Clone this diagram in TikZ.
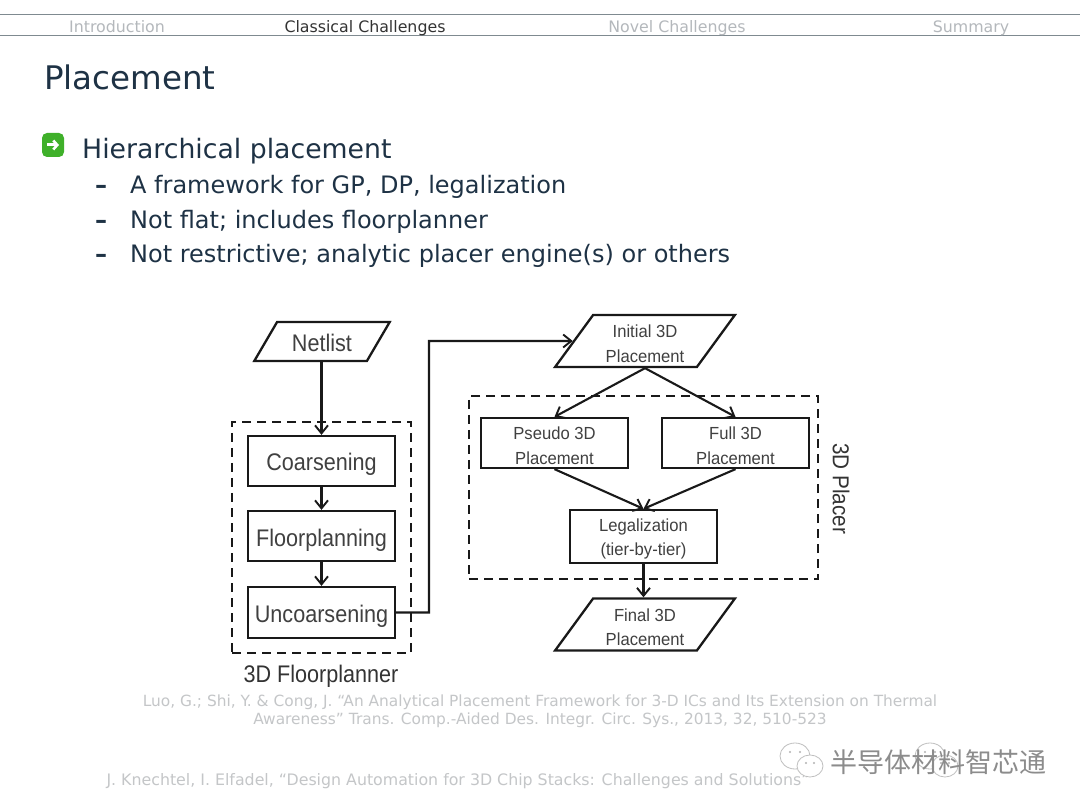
\documentclass[tikz,border=0pt]{standalone}
\usepackage{fontspec}
\setmainfont{DejaVu Sans}
\newfontfamily\arialf[FakeStretch=0.9]{Liberation Sans}
\newfontfamily\arials[FakeStretch=0.95]{Liberation Sans}
\newfontfamily\cjkf{Noto Sans CJK SC}
\usetikzlibrary{arrows.meta,shapes.geometric}
\definecolor{slidetext}{HTML}{1E3245}
\definecolor{headgray}{HTML}{B4B8BC}
\definecolor{refgray}{HTML}{C4C6C8}
\definecolor{rulegray}{HTML}{7F8A90}
\definecolor{bulletgreen}{HTML}{3FB02A}
\newcommand{\lowstrut}{\rule{0pt}{18pt}}
\tikzset{
  x=1pt,y=-1pt,
  slidetxt/.style={anchor=base west,inner sep=0pt,text=slidetext},
  subtxt/.style={slidetxt,font=\fontsize{24}{28}\selectfont},
  headtxt/.style={anchor=base,inner sep=0pt,text=headgray,font=\fontsize{15.8}{18}\selectfont},
  reftxt/.style={anchor=base,inner sep=0pt,text=refgray,font=\fontsize{15.4}{18}\selectfont},
  flowbox/.style={draw=black!90,line width=2.3pt,inner sep=0pt,align=center,text=black!75,
    font=\arials\fontsize{17.5}{24.5}\selectfont},
  bigbox/.style={draw=black!90,line width=2.3pt,inner sep=0pt,text=black!75,
    minimum width=147pt,minimum height=50pt,text height=20pt,text depth=0pt,
    font=\arialf\fontsize{24}{26}\selectfont},
  placebox/.style={flowbox,minimum width=147pt,minimum height=50pt},
  paragram/.style={flowbox,shape=trapezium,trapezium left angle=56,trapezium right angle=124,
    trapezium stretches=true,minimum width=180pt,minimum height=52pt},
  dashbox/.style={draw=black!90,line width=2.2pt,dash pattern=on 9pt off 6pt,inner sep=0pt},
  flow/.style={draw=black!90,line width=2.1pt,-{Straight Barb[length=8pt,width=13pt,line width=1.9pt]}},
}
\begin{document}
\begin{tikzpicture}
\useasboundingbox (0,0) rectangle (1080,810);
\fill[white] (0,0) rectangle (1080,810);
% header
\coordinate (hlA) at (0,15); \coordinate (hlB) at (1080,15);
\coordinate (hlC) at (0,36); \coordinate (hlD) at (1080,36);
\draw[rulegray,line width=1pt] (hlA) -- (hlB);
\draw[rulegray,line width=1pt] (hlC) -- (hlD);
\node[headtxt] (h1) at (117,32.5) {Introduction};
\node[headtxt,text=black!80] (h2) at (365,32.5) {Classical Challenges};
\node[headtxt] (h3) at (677,32.5) {Novel Challenges};
\node[headtxt] (h4) at (971,32.5) {Summary};
% title
\node[slidetxt,font=\fontsize{32.5}{36}\selectfont] (title) at (44,90) {Placement};
% bullet
\fill[bulletgreen,rounded corners=5pt] (42,133) rectangle (64,157);
\draw[white,line width=3pt,-{Straight Barb[length=4pt,width=9pt,line width=2.6pt]}] (47,145) -- (59,145);
\node[slidetxt,font=\fontsize{26.7}{30}\selectfont] (b0) at (82,159) {Hierarchical placement};
\node[subtxt,font=\bfseries\fontsize{24}{28}\selectfont] (d1) at (95,194) {–};
\node[subtxt] (b1) at (130,194) {A framework for GP, DP, legalization};
\node[subtxt,font=\bfseries\fontsize{24}{28}\selectfont] (d2) at (95,229) {–};
\node[subtxt] (b2) at (130,229) {Not flat; includes floorplanner};
\node[subtxt,font=\bfseries\fontsize{24}{28}\selectfont] (d3) at (95,263) {–};
\node[subtxt] (b3) at (130,263) {Not restrictive; analytic placer engine(s) or others};
% left column
\node[dashbox,minimum width=179pt,minimum height=231pt] (fpbox) at (321.5,537.5) {};
\node[dashbox,minimum width=349pt,minimum height=183pt] (plbox) at (643.5,487.5) {};
\node[paragram,trapezium left angle=54,trapezium right angle=126,minimum width=136pt,minimum height=39pt,
  text height=21pt,text depth=0pt,font=\arialf\fontsize{24}{26}\selectfont] (net) at (322,341.5) {Netlist};
\node[bigbox] (coars) at (321.5,461) {Coarsening};
\node[bigbox] (floor) at (321.5,536) {Floorplanning};
\node[bigbox,minimum height=51pt] (uncoars) at (321.5,612.5) {Uncoarsening};
\node[anchor=base,inner sep=0pt,text=black!80,font=\arialf\fontsize{24}{26}\selectfont] (fpl) at (321,682) {3D Floorplanner};
% right column
\node[paragram] (init) at (645,341) {\lowstrut Initial 3D\\Placement};
\node[placebox] (pseudo) at (554.5,443) {\lowstrut Pseudo 3D\\Placement};
\node[placebox] (full) at (735.5,443) {\lowstrut Full 3D\\Placement};
\node[placebox,minimum height=53pt] (legal) at (643.5,536.5) {\lowstrut Legalization\\(tier-by-tier)};
\node[paragram] (final) at (645,624.5) {\lowstrut Final 3D\\Placement};
\node[anchor=center,rotate=-90,inner sep=0pt,text=black!80,font=\arialf\fontsize{23}{26}\selectfont] (plt) at (841,488.5) {3D Placer};
% connectors
\draw[flow] (net.south -| coars.north) -- (coars.north);
\draw[flow] (coars) -- (floor);
\draw[flow] (floor) -- (uncoars);
\coordinate (turnA) at (429,612.5);
\coordinate (turnB) at (429,341);
\draw[flow] (uncoars.east) -- (turnA) -- (turnB) -- (init.west);
\draw[flow] (init.south) -- (pseudo.north);
\draw[flow] (init.south) -- (full.north);
\draw[flow] (pseudo.south) -- (legal.north);
\draw[flow] (full.south) -- (legal.north);
\draw[flow] (legal.south) -- (legal.south |- final.north);
% references
\node[reftxt] (r1) at (540,706) {Luo, G.; Shi, Y. \& Cong, J. “An Analytical Placement Framework for 3-D ICs and Its Extension on Thermal};
\node[reftxt] (r2) at (540,724) {Awareness” Trans. Comp.-Aided Des. Integr. Circ. Sys., 2013, 32, 510-523};
\node[reftxt,font=\fontsize{15.8}{18}\selectfont] (r3) at (458,785) {J. Knechtel, I. Elfadel, “Design Automation for 3D Chip Stacks: Challenges and Solutions”};
% watermark
\foreach \cx/\cy in {795/756,930/756}{
  \draw[black!25,line width=.8pt,fill=white] (\cx,\cy) ellipse (15pt and 13pt);
  \fill[black!30] (\cx-5,\cy-4) circle (1.2pt) (\cx+5,\cy-4) circle (1.2pt);
  \draw[black!25,line width=.8pt,fill=white] (\cx+15,\cy+10) ellipse (13pt and 11pt);
  \fill[black!30] (\cx+11,\cy+7) circle (1.2pt) (\cx+19,\cy+7) circle (1.2pt);
}
\node[anchor=base west,inner sep=0pt,text=black!45,font=\cjkf\fontsize{27}{30}\selectfont] (wm) at (830,772) {半导体材料智芯通};
\end{tikzpicture}
\end{document}
